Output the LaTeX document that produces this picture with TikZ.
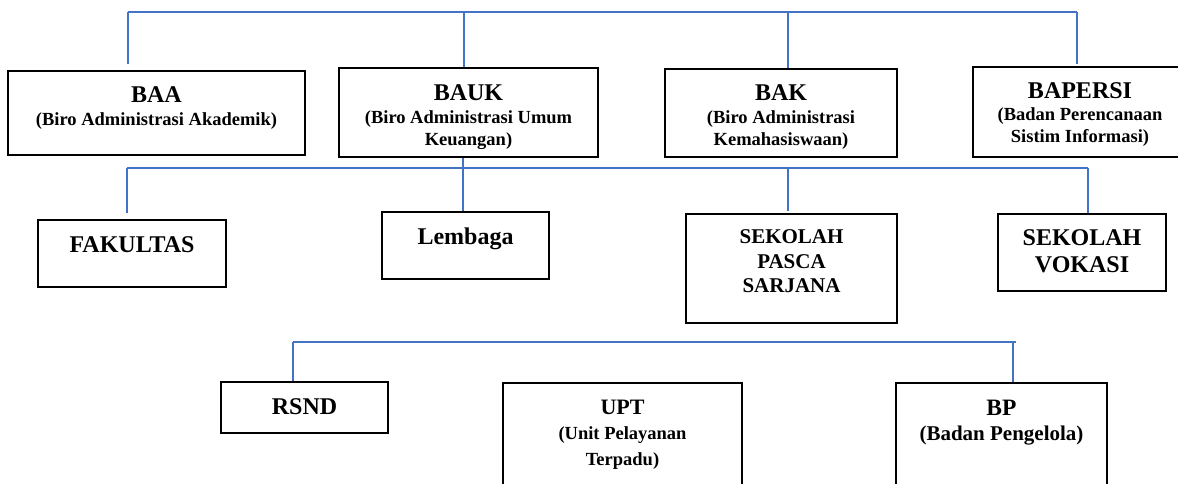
\documentclass[tikz,border=0pt]{standalone}
\usepackage{fontspec}
\setmainfont{Liberation Serif}
\usetikzlibrary{positioning}
\definecolor{busblue}{RGB}{68,114,196}

\begin{document}
\begin{tikzpicture}[x=1pt, y=1pt,
    unit/.style={draw=black, line width=2.4pt, inner sep=0pt},
    txt/.style={inner sep=0pt, align=center, font=\bfseries},
    bus/.style={draw=busblue, line width=2pt}]
\useasboundingbox (0,0) rectangle (1178,-483);
\clip (0,0) rectangle (1178,-483);

%% ROW 1: biro
\node[unit, minimum width=297, minimum height=84] (baa) at (156.5,-113) {};
\node[unit, minimum width=259, minimum height=89] (bauk) at (468.5,-112.5) {};
\node[unit, minimum width=232, minimum height=88] (bak) at (781,-113) {};
\node[unit, minimum width=214, minimum height=90] (bapersi) at (1080,-112) {};

\node[txt, below=17pt of baa.north, font=\bfseries\fontsize{18.5}{23}\selectfont] (baa-t)
  {{\fontsize{24}{24}\selectfont BAA}\\ (Biro Administrasi Akademik)};
\node[txt, below=18pt of bauk.north, font=\bfseries\fontsize{18.5}{22.5}\selectfont] (bauk-t)
  {{\fontsize{24}{24}\selectfont BAUK}\\ (Biro Administrasi Umum\\ Keuangan)};
\node[txt, below=17pt of bak.north, font=\bfseries\fontsize{18.5}{22.5}\selectfont] (bak-t)
  {{\fontsize{24}{24}\selectfont BAK}\\ (Biro Administrasi\\ Kemahasiswaan)};
\node[txt, below=17pt of bapersi.north, font=\bfseries\fontsize{18.5}{22}\selectfont] (bapersi-t)
  {{\fontsize{24}{24}\selectfont BAPERSI}\\ (Badan Perencanaan\\ Sistim Informasi)};

%% ROW 2: fakultas, lembaga, sekolah
\node[unit, minimum width=188, minimum height=67] (fak) at (132,-253.5) {};
\node[unit, minimum width=167, minimum height=67] (lembaga) at (465.5,-245.5) {};
\node[unit, minimum width=211, minimum height=109] (sps) at (791.5,-268.5) {};
\node[unit, minimum width=168, minimum height=77] (sv) at (1082,-252.5) {};

\node[txt, below=18pt of fak.north, font=\bfseries\fontsize{24}{24}\selectfont] (fak-t) {FAKULTAS};
\node[txt, below=17pt of lembaga.north, font=\bfseries\fontsize{24}{24}\selectfont] (lembaga-t) {Lembaga};
\node[txt, below=17pt of sps.north, font=\bfseries\fontsize{21}{24.5}\selectfont] (sps-t)
  {SEKOLAH\\ PASCA\\ SARJANA};
\node[txt, below=17pt of sv.north, font=\bfseries\fontsize{24}{27}\selectfont] (sv-t)
  {SEKOLAH\\ VOKASI};

%% ROW 3: rsnd, upt, bp
\node[unit, minimum width=167, minimum height=51] (rsnd) at (304.5,-407.5) {};
\node[unit, minimum width=239, minimum height=117] (upt) at (622.5,-441.5) {};
\node[unit, minimum width=211, minimum height=117] (bp) at (1001.5,-441.5) {};

\node[txt, below=18pt of rsnd.north, font=\bfseries\fontsize{24}{24}\selectfont] (rsnd-t) {RSND};
\node[txt, below=18pt of upt.north, font=\bfseries\fontsize{18.5}{25.5}\selectfont] (upt-t)
  {{\fontsize{22}{22}\selectfont UPT}\\ (Unit Pelayanan\\ Terpadu)};
\node[txt, below=18pt of bp.north, font=\bfseries\fontsize{21}{25}\selectfont] (bp-t)
  {{\fontsize{23.5}{24}\selectfont BP}\\ (Badan Pengelola)};

%% connectors
\coordinate (top) at (0,-12);
\coordinate (mid) at (0,-168);
\coordinate (low) at (0,-342);

\draw[bus] ([xshift=-28.5pt]baa.north |- top) -- ([xshift=-3pt]bapersi.north |- top);
\foreach \n/\dx/\gap in {baa/-28.5/6, bauk/-4.5/0, bak/7/0, bapersi/-3/2}
  \draw[bus] ([shift={(\dx,\gap)}]\n.north) -- ([xshift=\dx]\n.north |- top);

\draw[bus] ([xshift=-5pt]fak.north |- mid) -- ([xshift=6pt]sv.north |- mid);
\foreach \n/\dx/\gap in {fak/-5/6, sps/-3.5/2, sv/6/0}
  \draw[bus] ([shift={(\dx,\gap)}]\n.north) -- ([xshift=\dx]\n.north |- mid);
\draw[bus] ([xshift=-5.5pt]bauk.south) -- ([xshift=-2.5pt]lembaga.north);

\draw[bus] ([xshift=-11.5pt]rsnd.north |- low) -- ([xshift=14.5pt]bp.north |- low);
\foreach \n/\dx in {rsnd/-11.5, bp/11.5}
  \draw[bus] (\n.north) ++(\dx,0) -- ([xshift=\dx]\n.north |- low);
\end{tikzpicture}
\end{document}
